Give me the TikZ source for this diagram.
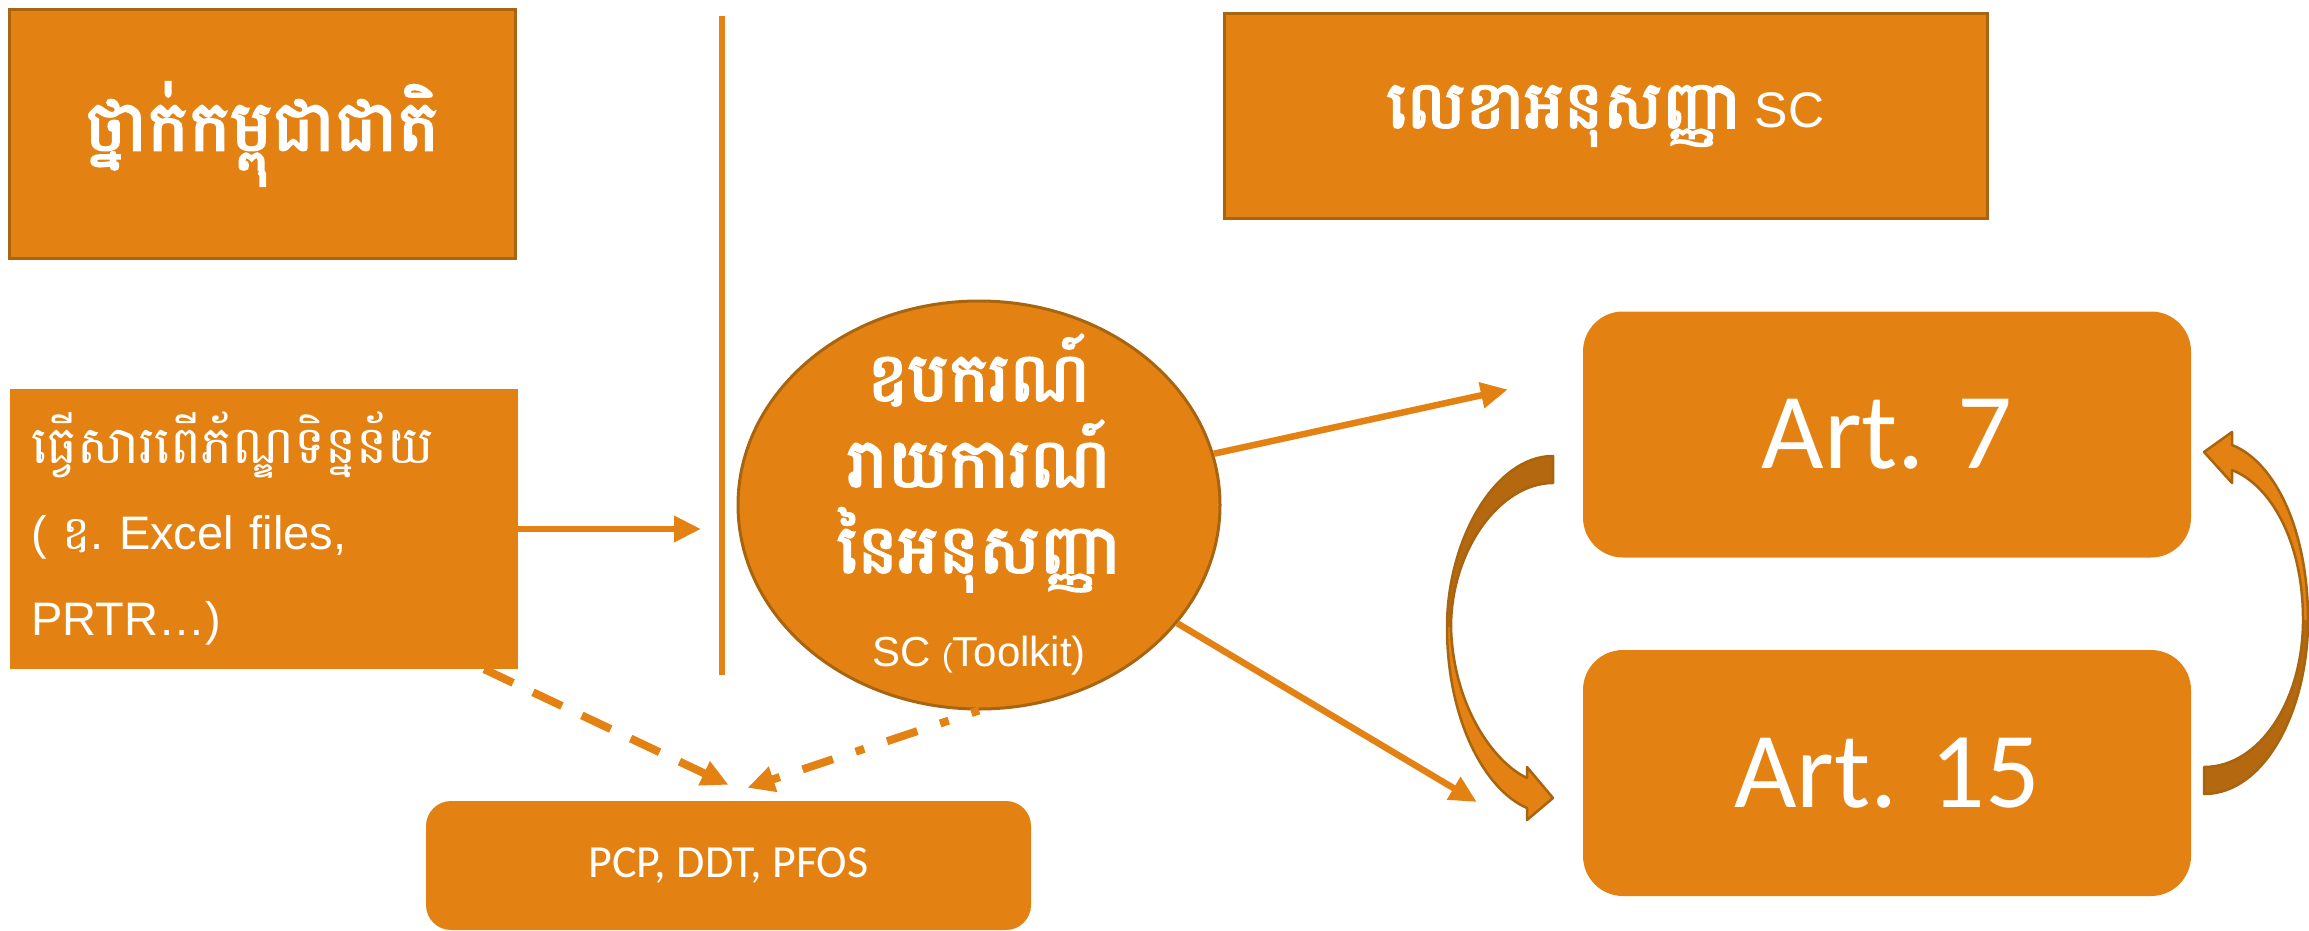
\documentclass[tikz,border=0pt]{standalone}
\usepackage{fontspec}
\setmainfont{Liberation Sans}
\newfontfamily\khmer[Script=Khmer]{Battambang}
\newfontfamily\khmerbf[Script=Khmer,FakeBold=3]{Battambang}
\newfontfamily\calibri{Carlito}
\usetikzlibrary{shapes.geometric,arrows.meta}
\definecolor{boxorange}{HTML}{E38213}
\definecolor{boxedge}{HTML}{A8640F}
\definecolor{curvdark}{HTML}{B4680F}

\begin{document}
\begin{tikzpicture}[x=1pt,y=-1pt,
	every node/.style={text=white,inner sep=0pt},
	edgebox/.style={draw=boxedge,line width=3pt,fill=boxorange},
	plainbox/.style={fill=boxorange},
	artbox/.style={fill=boxorange,rounded corners=40pt,minimum width=608pt,minimum height=246pt,font=\calibri\fontsize{108}{108}\selectfont},
	link/.style={draw=boxorange,line width=6.5pt,-{Triangle[length=27pt,width=25pt]}},
	curvline/.style={draw=boxedge,line width=2.5pt,line join=round}]
	\useasboundingbox (0,0) rectangle (2309,931);
	\node[edgebox,minimum width=506pt,minimum height=248pt,font=\khmerbf\fontsize{70}{70}\selectfont] (natl) at (262,134) {ថ្នាក់កម្ពុជាជាតិ};
	\node[edgebox,minimum width=763pt,minimum height=204pt,font=\fontsize{50}{50}\selectfont] (sec) at (1605.5,116) {{\khmerbf\fontsize{66}{66}\selectfont លេខាអនុសញ្ញា} SC};
	\node[plainbox,minimum width=508pt,minimum height=280pt,text width=466pt,align=left,font=\fontsize{47}{86}\selectfont] (inv) at (264,529) {{\khmer\fontsize{52}{86}\selectfont ធ្វើសារពើភ័ណ្ឌទិន្នន័យ}\\( {\khmer ឧ}.~Excel files,\\PRTR…)};
	\node[ellipse,edgebox,minimum width=482pt,minimum height=408pt,
		label={[align=center,font=\khmerbf\fontsize{68}{86}\selectfont]center:ឧបករណ៍\\រាយការណ៍\\នៃអនុសញ្ញា\\[8pt]{\rmfamily\fontsize{42}{42}\selectfont SC {\fontsize{32}{32}\selectfont(}Toolkit)}}] (tool) at (979,505) {};
	\node[plainbox,rounded corners=25pt,minimum width=605pt,minimum height=129pt,font=\calibri\fontsize{46}{46}\selectfont] (pcp) at (728.5,865.5) {PCP, DDT, PFOS};
	\node[artbox] (a7) at (1887,434.5) {Art. 7};
	\node[artbox] (a15) at (1887,773) {Art. 15};
	\coordinate (divtop) at (722,16);
	\coordinate (divbot) at (722,675);
	\coordinate (divhit) at (701,529);
	\draw[boxorange,line width=6pt] (divtop) -- (divbot);
	\draw[link] (inv.east) -- (divhit);
	\draw[link] (tool) -- ([xshift=-75pt,yshift=45pt]a7.west);
	\draw[link] (tool) -- ([xshift=-106pt,yshift=-29pt]a15.west);
	\draw[link,line width=8pt,dash pattern=on 32pt off 22pt] ([xshift=-34pt]inv.south east) -- ([yshift=16pt]pcp.north);
	\draw[link,line width=8pt,dash pattern=on 32pt off 24pt on 9pt off 24pt,dash phase=24pt] (tool.south) -- ([xshift=19pt,yshift=13pt]pcp.north);
	% art 7 -> art 15
	\fill[curvdark] (1553,456) .. controls (1495,456) and (1447,540) .. (1447,627) -- (1451,627) .. controls (1451,550) and (1500,483) .. (1553,483) -- cycle;
	\fill[boxorange] (1447,627) .. controls (1447,720) and (1485,790) .. (1527,808) -- (1527,820) -- (1553,798) -- (1527,767) -- (1527,778) .. controls (1493,762) and (1453,705) .. (1451,627) -- cycle;
	\draw[curvline] (1553,456) .. controls (1495,456) and (1447,540) .. (1447,627) .. controls (1447,720) and (1485,790) .. (1527,808) -- (1527,820) -- (1553,798) -- (1527,767) -- (1527,778) .. controls (1493,762) and (1453,705) .. (1451,627) .. controls (1451,550) and (1500,483) .. (1553,483) -- cycle;
	% art 15 -> art 7
	\fill[curvdark] (2204,794) .. controls (2265,794) and (2308,710) .. (2308,620) -- (2303,620) .. controls (2303,700) and (2260,767) .. (2204,767) -- cycle;
	\fill[boxorange] (2308,620) .. controls (2308,530) and (2275,462) .. (2232,445) -- (2232,432) -- (2204,452) -- (2232,483) -- (2232,470) .. controls (2270,485) and (2303,540) .. (2303,620) -- cycle;
	\draw[curvline] (2204,794) .. controls (2265,794) and (2308,710) .. (2308,620) .. controls (2308,530) and (2275,462) .. (2232,445) -- (2232,432) -- (2204,452) -- (2232,483) -- (2232,470) .. controls (2270,485) and (2303,540) .. (2303,620) .. controls (2303,700) and (2260,767) .. (2204,767) -- cycle;
\end{tikzpicture}
\end{document}
